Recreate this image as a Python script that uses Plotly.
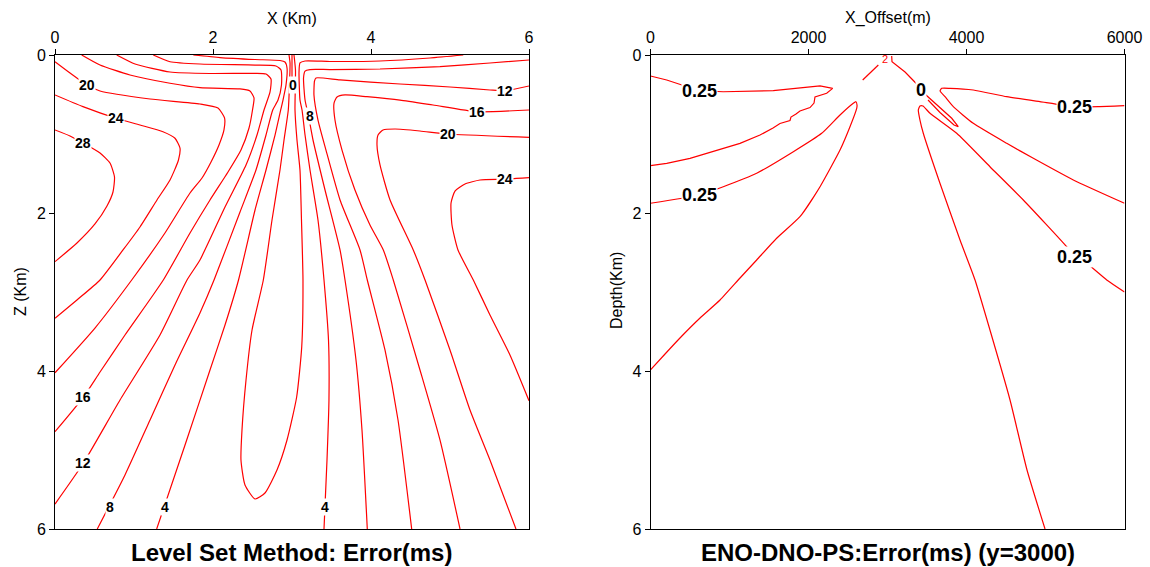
import plotly.graph_objects as go

# ---------------- Left panel: Level Set Method error contours (x, z in km) ----------------
C28_X = [0, 0.19, 0.354, 0.570, 0.696, 0.753, 0.734, 0.658, 0.506, 0.278, 0]
C28_Z = [0.949, 1.025, 1.114, 1.241, 1.367, 1.544, 1.734, 1.911, 2.139, 2.380, 2.616]

C24_X = [0, 0.354, 0.772, 1.076, 1.367, 1.519, 1.582, 1.563, 1.456, 1.291, 1.076, 0.861, 0.570, 0.278, 0]
C24_Z = [0.506, 0.654, 0.801, 0.886, 0.971, 1.054, 1.177, 1.329, 1.582, 1.835, 2.177, 2.468, 2.848, 3.101, 3.333]

C20_X = [0, 0.19, 0.405, 0.570, 1.203, 1.835, 2.063, 2.146, 2.139, 2.076, 1.975, 1.861, 1.709, 1.392, 0.971, 0.506, 0]
C20_Z = [0.085, 0.228, 0.380, 0.456, 0.557, 0.620, 0.671, 0.797, 0.949, 1.139, 1.354, 1.557, 1.747, 2.253, 2.848, 3.456, 4.022]

C16_X = [0.338, 0.570, 0.949, 1.456, 1.835, 2.342, 2.468, 2.519, 2.500, 2.456, 2.354, 2.190, 1.962, 1.709, 1.371, 0.886, 0.570, 0.358, 0]
C16_Z = [0, 0.127, 0.253, 0.358, 0.414, 0.430, 0.456, 0.544, 0.696, 0.924, 1.203, 1.481, 1.835, 2.253, 2.848, 3.544, 4.013, 4.333, 4.768]

C12_X = [0.781, 1.013, 1.456, 1.962, 2.532, 2.671, 2.734, 2.722, 2.646, 2.557, 2.418, 2.152, 1.835, 1.671, 1.329, 0.823, 0.358, 0]
C12_Z = [0, 0.114, 0.215, 0.234, 0.232, 0.241, 0.304, 0.468, 0.696, 1.013, 1.392, 1.924, 2.595, 2.848, 3.544, 4.367, 5.168, 5.684]

C8_X = [1.244, 1.456, 1.835, 2.532, 2.797, 2.861, 2.867, 2.823, 2.756, 2.671, 2.544, 2.342, 2.013, 1.835, 1.519, 1.203, 0.886, 0.535]
C8_Z = [0, 0.085, 0.114, 0.127, 0.139, 0.190, 0.380, 0.570, 0.696, 1.013, 1.456, 1.987, 2.848, 3.266, 3.924, 4.620, 5.316, 6.0]

C4_X = [1.751, 2.089, 2.532, 2.848, 2.911, 2.937, 2.924, 2.886, 2.857, 2.785, 2.671, 2.532, 2.323, 2.152, 1.962, 1.646, 1.287]
C4_Z = [0, 0.032, 0.057, 0.070, 0.089, 0.165, 0.380, 0.570, 0.696, 1.013, 1.456, 1.962, 2.848, 3.418, 3.987, 4.937, 6.0]

C0_X = [2.962, 2.975, 2.968, 2.953, 2.899, 2.848, 2.747, 2.637, 2.494, 2.418, 2.367, 2.354, 2.405, 2.532,
        2.658, 2.810, 2.937, 3.059, 3.123, 3.139, 3.120, 3.101, 3.063, 3.038, 3.044, 3.025]
C0_Z = [0, 0.101, 0.380, 0.696, 1.076, 1.456, 2.089, 2.848, 3.481, 4.114, 4.747, 5.127, 5.443, 5.620,
        5.544, 5.253, 4.873, 4.329, 3.696, 2.848, 2.089, 1.456, 1.076, 0.696, 0.190, 0]

C0S_X = [3.0, 3.0]
C0S_Z = [0, 0.278]

R4_X = [5.168, 4.747, 4.114, 3.481, 3.165, 3.101, 3.089, 3.101, 3.127, 3.165, 3.228, 3.329, 3.405, 3.462, 3.468, 3.443, 3.405]
R4_Z = [0, 0.038, 0.076, 0.082, 0.076, 0.101, 0.215, 0.570, 0.696, 1.013, 1.456, 2.089, 2.848, 3.608, 4.367, 5.127, 6.0]

R8_X = [6.0, 5.506, 4.873, 4.114, 3.481, 3.228, 3.165, 3.146, 3.165, 3.209, 3.266, 3.418, 3.608, 3.671, 3.810, 3.886, 3.953]
R8_Z = [0.063, 0.101, 0.146, 0.177, 0.184, 0.184, 0.203, 0.291, 0.570, 0.772, 1.076, 1.709, 2.468, 2.848, 3.861, 4.747, 6.0]

R12_X = [6.0, 5.696, 5.506, 5.0, 4.367, 3.608, 3.304, 3.285, 3.278, 3.329, 3.430, 3.608, 3.861, 3.953, 4.177, 4.342, 4.515]
R12_Z = [0.392, 0.452, 0.443, 0.405, 0.367, 0.316, 0.291, 0.329, 0.506, 0.823, 1.203, 1.835, 2.468, 2.848, 3.734, 4.620, 6.0]

R16_X = [6.0, 5.338, 4.785, 4.367, 3.949, 3.671, 3.570, 3.532, 3.544, 3.633, 3.797, 3.987, 4.156, 4.282, 4.620, 4.873, 5.127]
R16_Z = [0.696, 0.718, 0.633, 0.570, 0.528, 0.506, 0.532, 0.608, 0.823, 1.203, 1.709, 2.152, 2.468, 2.848, 3.987, 4.873, 6.0]

R20_X = [6.0, 4.975, 4.620, 4.304, 4.152, 4.089, 4.076, 4.114, 4.241, 4.535, 4.684, 5.0, 5.253, 5.506, 5.835]
R20_Z = [1.042, 1.0, 0.962, 0.937, 0.949, 1.013, 1.139, 1.392, 1.835, 2.468, 2.848, 3.734, 4.494, 5.127, 6.0]

R24_X = [6.0, 5.696, 5.380, 5.190, 5.063, 5.013, 5.025, 5.101, 5.295, 5.506, 5.759, 6.0]
R24_Z = [1.553, 1.573, 1.582, 1.633, 1.722, 1.873, 2.152, 2.468, 2.848, 3.291, 3.797, 4.376]

LEFT_LABEL_TEXT = ["20", "24", "28", "16", "12", "8", "4", "0", "8", "4", "12", "16", "20", "24"]
LEFT_LABEL_X = [0.399, 0.772, 0.351, 0.358, 0.358, 0.696, 1.392, 3.013, 3.228, 3.418, 5.696, 5.342, 4.975, 5.696]
LEFT_LABEL_Z = [0.380, 0.801, 1.118, 4.333, 5.168, 5.722, 5.722, 0.380, 0.772, 5.722, 0.456, 0.722, 1.0, 1.570]

# ---------------- Right panel: ENO-DNO-PS error contours (x in m, depth in km) ----------------
P1_X = [0, 205, 618, 921, 1554, 2146, 2306, 2230, 2082, 2070, 2019, 1892, 1842, 1778, 1766, 1639, 1551, 1386, 1133, 795, 500, 205, 0]
P1_Z = [0.266, 0.316, 0.452, 0.465, 0.452, 0.392, 0.422, 0.485, 0.532, 0.608, 0.665, 0.709, 0.747, 0.785, 0.829, 0.867, 0.924, 1.013, 1.118, 1.224, 1.308, 1.371, 1.401]

P2_X = [0, 618, 921, 1344, 1808, 2167, 2399, 2567, 2601, 2614, 2610, 2525, 2399, 2146, 1892, 1597, 1344, 1133, 880, 627, 373, 184, 0]
P2_Z = [1.877, 1.772, 1.667, 1.497, 1.224, 0.991, 0.759, 0.611, 0.591, 0.633, 0.675, 0.908, 1.203, 1.667, 2.047, 2.320, 2.595, 2.823, 3.101, 3.329, 3.582, 3.785, 3.987]

P3_X = [2686, 2884]
P3_Z = [0.316, 0.127]

P4_X = [3053, 3057, 3222, 3370, 3487, 3665, 3813, 3896, 3842, 3665, 3513]
P4_Z = [0.013, 0.085, 0.215, 0.367, 0.506, 0.671, 0.801, 0.908, 0.886, 0.728, 0.570]

P5_X = [6000, 5668, 5364, 4930, 4509, 4086, 3791, 3686, 3665, 3728, 3833, 4086, 4509, 4846, 5352, 6000]
P5_Z = [0.642, 0.654, 0.654, 0.591, 0.528, 0.443, 0.422, 0.422, 0.456, 0.528, 0.654, 0.865, 1.118, 1.308, 1.582, 1.877]

P6_X = [4994, 4766, 4551, 4297, 4108, 3918, 3664, 3453, 3411, 3390, 3411, 3449, 3538, 3876, 4297, 4719, 5268, 5364, 5521, 5775, 6000]
P6_Z = [6.0, 5.253, 4.367, 3.481, 2.848, 2.342, 1.624, 0.991, 0.823, 0.696, 0.646, 0.646, 0.738, 0.991, 1.414, 1.835, 2.427, 2.553, 2.637, 2.848, 3.0]

RIGHT_LABEL_TEXT = ["0.25", "0.25", "0.25", "0.25", "0"]
RIGHT_LABEL_X = [619, 619, 5364, 5364, 3424]
RIGHT_LABEL_Z = [0.452, 1.772, 0.654, 2.553, 0.443]

RED_MARK_TEXT = "2"
RED_MARK_X = 2962
RED_MARK_Z = 0.045

LEFT_TICKS = [0, 2, 4, 6]
RIGHT_XTICKS = [0, 2000, 4000, 6000]
DEPTH_TICKS = [0, 2, 4, 6]

FONT = "Liberation Sans, Arial, sans-serif"
RED = "#ff0000"

fig = go.Figure()

left_lines = [(C28_X, C28_Z), (C24_X, C24_Z), (C20_X, C20_Z), (C16_X, C16_Z), (C12_X, C12_Z),
              (C8_X, C8_Z), (C4_X, C4_Z), (C0_X, C0_Z), (C0S_X, C0S_Z),
              (R4_X, R4_Z), (R8_X, R8_Z), (R12_X, R12_Z), (R16_X, R16_Z), (R20_X, R20_Z), (R24_X, R24_Z)]
for xs, zs in left_lines:
    fig.add_trace(go.Scatter(x=xs, y=zs, mode="lines", xaxis="x", yaxis="y",
                             line=dict(color=RED, width=1.2, shape="spline", smoothing=0.55),
                             hoverinfo="skip", showlegend=False))

right_lines = [(P1_X, P1_Z, "linear"), (P2_X, P2_Z, "spline"), (P3_X, P3_Z, "linear"),
               (P4_X, P4_Z, "linear"), (P5_X, P5_Z, "spline"), (P6_X, P6_Z, "spline")]
for xs, zs, shp in right_lines:
    fig.add_trace(go.Scatter(x=xs, y=zs, mode="lines", xaxis="x2", yaxis="y2",
                             line=dict(color=RED, width=1.2, shape=shp, smoothing=0.5),
                             hoverinfo="skip", showlegend=False))

annotations = []
for t, x, z in zip(LEFT_LABEL_TEXT, LEFT_LABEL_X, LEFT_LABEL_Z):
    annotations.append(dict(x=x, y=z, xref="x", yref="y", text="<b>%s</b>" % t, showarrow=False,
                            font=dict(family=FONT, size=14, color="black"), bgcolor="white",
                            borderpad=0, xanchor="center", yanchor="middle"))
for t, x, z in zip(RIGHT_LABEL_TEXT, RIGHT_LABEL_X, RIGHT_LABEL_Z):
    annotations.append(dict(x=x, y=z, xref="x2", yref="y2", text="<b>%s</b>" % t, showarrow=False,
                            font=dict(family=FONT, size=18, color="black"), bgcolor="white",
                            borderpad=0, xanchor="center", yanchor="middle"))
annotations.append(dict(x=RED_MARK_X, y=RED_MARK_Z, xref="x2", yref="y2", text=RED_MARK_TEXT,
                        showarrow=False, font=dict(family=FONT, size=11, color=RED),
                        xanchor="center", yanchor="middle"))

W, H = 1150, 567
L_X0, L_X1 = 55 / W, 529 / W
R_X0, R_X1 = 650.5 / W, 1124.5 / W
Y0, Y1 = 1 - 529 / H, 1 - 55 / H

def ptitle(text, xpx, ypx, size, bold=False, angle=0):
    return dict(x=xpx / W, y=1 - ypx / H, xref="paper", yref="paper",
                text=("<b>%s</b>" % text) if bold else text, showarrow=False, textangle=angle,
                font=dict(family=FONT, size=size, color="black"), xanchor="center", yanchor="middle")

annotations += [
    ptitle("X (Km)", 292, 18, 16),
    ptitle("X_Offset(m)", 887.5, 18, 16),
    ptitle("Z (Km)", 20, 292, 16, angle=-90),
    ptitle("Depth(Km)", 616, 290, 16, angle=-90),
    ptitle("Level Set Method: Error(ms)", 291.5, 552, 24, bold=True),
    ptitle("ENO-DNO-PS:Error(ms) (y=3000)", 887.5, 552, 24, bold=True),
]

axis_common = dict(showgrid=False, zeroline=False, showline=True, mirror=True, linecolor="black",
                   linewidth=1, ticks="outside", ticklen=5, tickcolor="black", automargin=False,
                   tickfont=dict(family=FONT, size=16, color="black"))

fig.update_layout(
    width=W, height=H, margin=dict(l=0, r=0, t=0, b=0, autoexpand=False),
    paper_bgcolor="white", plot_bgcolor="white", showlegend=False,
    xaxis=dict(domain=[L_X0, L_X1], range=[0, 6], side="top", anchor="y",
               tickvals=LEFT_TICKS, ticktext=[str(v) for v in LEFT_TICKS], **axis_common),
    yaxis=dict(domain=[Y0, Y1], range=[6, 0], anchor="x",
               tickvals=LEFT_TICKS, ticktext=[str(v) for v in LEFT_TICKS], **axis_common),
    xaxis2=dict(domain=[R_X0, R_X1], range=[0, 6000], side="top", anchor="y2",
                tickvals=RIGHT_XTICKS, ticktext=[str(v) for v in RIGHT_XTICKS], **axis_common),
    yaxis2=dict(domain=[Y0, Y1], range=[6, 0], anchor="x2",
                tickvals=DEPTH_TICKS, ticktext=[str(v) for v in DEPTH_TICKS], **axis_common),
    annotations=annotations,
)

fig.write_html("out.html", config={"displayModeBar": False},
               post_script="document.body.style.margin='0px';document.body.style.overflow='hidden';")
